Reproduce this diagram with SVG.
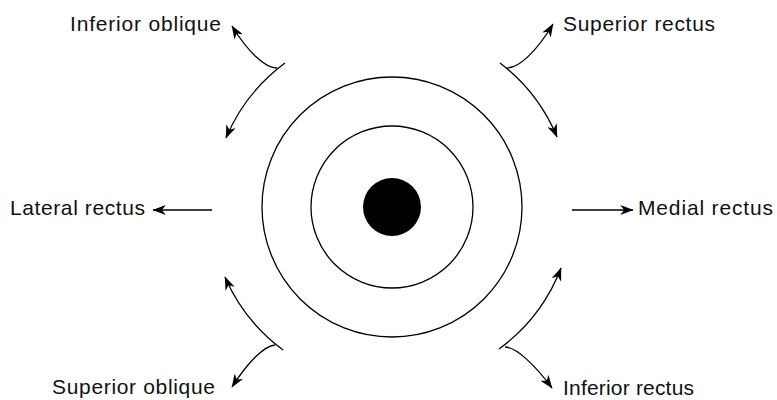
<svg xmlns="http://www.w3.org/2000/svg" width="777" height="400" viewBox="0 0 777 400">
  <style>
    .ln { fill: none; stroke: #000; stroke-width: 1.3; }
    .lbl { font-family: "Liberation Sans", Arial, sans-serif; font-size: 21px; fill: #111; }
  </style>
  <defs>
    <marker id="ah" markerUnits="userSpaceOnUse" markerWidth="14" markerHeight="10" viewBox="0 0 12 9" refX="11.5" refY="4.5" orient="auto">
      <path d="M0,0 L12,4.5 L0,9 L3.5,4.5 Z" fill="#000"/>
    </marker>
  </defs>
  <rect width="777" height="400" fill="#fff"/>

  <g id="eye">
    <circle cx="392" cy="207" r="130" class="ln"/>
    <circle cx="392" cy="207" r="81" class="ln"/>
    <circle cx="392" cy="207" r="29" fill="#000"/>
  </g>

  <g id="connectors">
    <!-- top-left -->
    <path class="ln" d="M285,63 A180,180 0 0 0 226,138" marker-end="url(#ah)"/>
    <path class="ln" d="M277,68 C265,68 248,52 232,26" marker-end="url(#ah)"/>
    <!-- top-right -->
    <path class="ln" d="M500,63 A180,180 0 0 1 557,137" marker-end="url(#ah)"/>
    <path class="ln" d="M507,68 C519,68 537,51 553,24" marker-end="url(#ah)"/>
    <!-- bottom-left -->
    <path class="ln" d="M283,350 A180,180 0 0 1 225,277" marker-end="url(#ah)"/>
    <path class="ln" d="M275,345 C264,346 248,362 232,387" marker-end="url(#ah)"/>
    <!-- bottom-right -->
    <path class="ln" d="M499,349 A180,180 0 0 0 561,268" marker-end="url(#ah)"/>
    <path class="ln" d="M505,347 C516,347 535,365 552,388" marker-end="url(#ah)"/>
    <!-- horizontal -->
    <path class="ln" d="M212,210 L153,210" marker-end="url(#ah)"/>
    <path class="ln" d="M572,210 L633,210" marker-end="url(#ah)"/>
  </g>

  <g id="inferior-oblique"><text class="lbl" x="70" y="31" textLength="151" lengthAdjust="spacing">Inferior oblique</text></g>
  <g id="superior-rectus"><text class="lbl" x="563" y="31" textLength="152" lengthAdjust="spacing">Superior rectus</text></g>
  <g id="lateral-rectus"><text class="lbl" x="10" y="215" textLength="135" lengthAdjust="spacing">Lateral rectus</text></g>
  <g id="medial-rectus"><text class="lbl" x="638" y="215" textLength="135" lengthAdjust="spacing">Medial rectus</text></g>
  <g id="superior-oblique"><text class="lbl" x="52" y="394" textLength="163" lengthAdjust="spacing">Superior oblique</text></g>
  <g id="inferior-rectus"><text class="lbl" x="563" y="395" textLength="131" lengthAdjust="spacing">Inferior rectus</text></g>
</svg>
